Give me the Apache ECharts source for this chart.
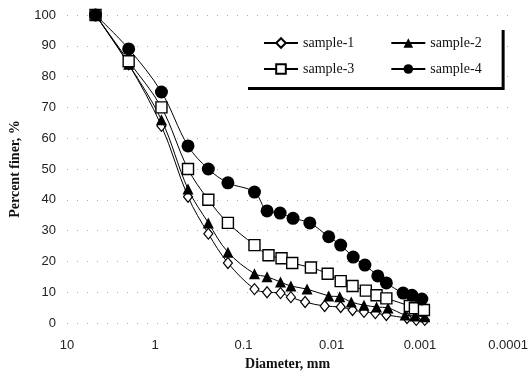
<!DOCTYPE html>
<html>
<head>
<meta charset="utf-8">
<script src="https://cdn.jsdelivr.net/npm/echarts@6/dist/echarts.min.js"></script>
<style>
  html, body { margin: 0; padding: 0; background: #fff; }
  #chart { width: 531px; height: 380px; }
</style>
</head>
<body>
<div id="chart"></div>
<script>
// sieve + hydrometer diameters (mm) and percent finer
const sieveDiam = [4.75, 2, 0.85, 0.425, 0.25, 0.15, 0.075];

const hydroDiam1 = [0.054, 0.038, 0.029, 0.020, 0.012, 0.0079, 0.0058, 0.0043, 0.0032, 0.0024, 0.0014, 0.0011, 0.00088];
const hydroDiam2 = [0.054, 0.038, 0.029, 0.019, 0.0108, 0.0081, 0.0060, 0.0043, 0.0031, 0.0023, 0.00147, 0.00114, 0.00088];
const hydroDiam3 = [0.052, 0.037, 0.028, 0.0172, 0.0111, 0.0079, 0.0058, 0.0041, 0.0031, 0.0024, 0.0013, 0.00114, 0.0009];
const hydroDiam4 = [0.054, 0.0384, 0.0274, 0.0177, 0.0108, 0.0079, 0.0057, 0.0042, 0.0030, 0.0024, 0.00155, 0.00123, 0.00095];

const finer1 = [100, 84, 64, 41, 29, 19.5, 11, 10, 9.7, 8.4, 6.8, 5.5, 5.2, 4.2, 3.6, 3.2, 2.6, 1.6, 1, 1];
const finer2 = [100, 84, 66, 43.5, 32.5, 23, 16, 15, 13.3, 12, 11, 8.8, 8.5, 6.8, 5.8, 5.2, 4.9, 2.6, 2.3, 2];
const finer3 = [100, 85, 70, 50, 40, 32.5, 25.3, 22, 21, 19.5, 18, 16, 13.6, 12, 10.5, 9, 8, 5.5, 4.8, 4.2];
const finer4 = [100, 89, 75, 57.5, 50, 45.5, 42.5, 36.4, 35.7, 34, 32.5, 28, 25.3, 21.4, 18.8, 15.3, 13, 9.7, 9, 7.8];

const seriesNames = ['sample-1', 'sample-2', 'sample-3', 'sample-4'];
const xTickLabels = ['10', '1', '0.1', '0.01', '0.001', '0.0001'];
const yTicks = [0, 10, 20, 30, 40, 50, 60, 70, 80, 90, 100];

const pairs = (hydro, finer) => sieveDiam.concat(hydro).map((d, i) => [d, finer[i]]);

const chart = echarts.init(document.getElementById('chart'), null, { renderer: 'canvas' });

const markers = [
  { symbol: 'diamond', size: [9, 11], fill: '#fff', bw: 1.2 },
  { symbol: 'triangle', size: 11, fill: '#000', bw: 0 },
  { symbol: 'rect', size: 11, fill: '#fff', bw: 1.4 },
  { symbol: 'circle', size: 13, fill: '#000', bw: 0 }
];
const allData = [
  pairs(hydroDiam1, finer1),
  pairs(hydroDiam2, finer2),
  pairs(hydroDiam3, finer3),
  pairs(hydroDiam4, finer4)
];

const legendBase = {
  orient: 'horizontal',
  itemWidth: 34,
  itemHeight: 12,
  itemGap: 36,
  textStyle: { fontFamily: 'Liberation Serif', fontSize: 14, color: '#111' },
  selectedMode: false,
  inactiveColor: '#000'
};

const option = {
  backgroundColor: '#fff',
  animation: false,
  grid: { left: 67, right: 20, top: 15, bottom: 57 },
  legend: [
    Object.assign({}, legendBase, {
      data: seriesNames.slice(0, 2),
      left: 245,
      top: 27,
      padding: [9, 20, 37, 18],
      backgroundColor: '#fff',
      shadowColor: '#000',
      shadowBlur: 0,
      shadowOffsetX: 3,
      shadowOffsetY: 3
    }),
    Object.assign({}, legendBase, {
      data: seriesNames.slice(2, 4),
      left: 245,
      top: 53,
      padding: [9, 20, 9, 18]
    })
  ],
  xAxis: {
    type: 'log',
    logBase: 10,
    min: 0.0001,
    max: 10,
    inverse: true,
    name: 'Diameter, mm',
    nameLocation: 'middle',
    nameGap: 32,
    nameTextStyle: { fontFamily: 'Liberation Serif', fontWeight: 'bold', fontSize: 14, color: '#111' },
    axisLine: { show: false },
    axisTick: { show: false },
    splitLine: { show: false },
    axisLabel: {
      margin: 16,
      fontFamily: 'Liberation Sans',
      fontSize: 13,
      color: '#222',
      formatter: v => xTickLabels[1 - Math.round(Math.log10(v))]
    }
  },
  yAxis: {
    type: 'value',
    min: yTicks[0],
    max: yTicks[yTicks.length - 1],
    interval: 10,
    name: 'Percent finer, %',
    nameLocation: 'middle',
    nameGap: 45,
    nameTextStyle: { fontFamily: 'Liberation Serif', fontWeight: 'bold', fontSize: 14, color: '#111' },
    axisLine: { show: false },
    axisTick: { show: false },
    splitLine: { show: true, lineStyle: { color: '#aaa', type: [1, 9], width: 1 } },
    axisLabel: { margin: 11, fontFamily: 'Liberation Sans', fontSize: 13, color: '#222' }
  },
  series: seriesNames.map((name, i) => ({
    name,
    type: 'line',
    data: allData[i],
    smooth: 0.35,
    symbol: markers[i].symbol,
    symbolSize: markers[i].size,
    showAllSymbol: true,
    lineStyle: { color: '#000', width: 1 },
    itemStyle: {
      color: markers[i].fill,
      borderColor: '#000',
      borderWidth: markers[i].bw
    },
    z: 2 + i
  }))
};

chart.setOption(option);
</script>
</body>
</html>
